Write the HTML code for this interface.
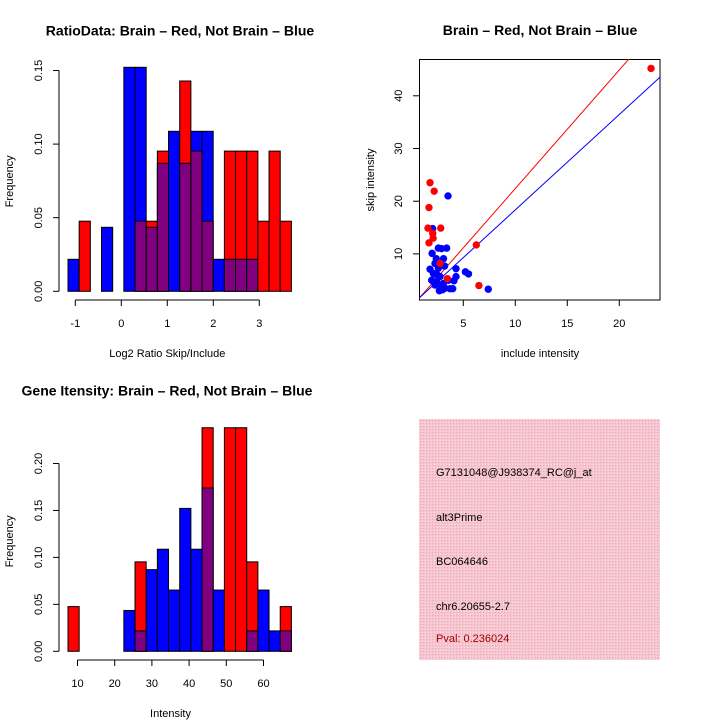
<!DOCTYPE html>
<html><head><meta charset="utf-8"><style>
body{margin:0;background:#fff}
svg{display:block;font-family:"Liberation Sans",Arial,sans-serif}
</style></head><body>
<svg width="720" height="720" viewBox="0 0 720 720">
<defs>
<pattern id="hatch" width="3" height="3" patternUnits="userSpaceOnUse">
<rect width="3" height="3" fill="#f6c6d0"/><rect width="1" height="1" fill="#f0a8b8"/><rect x="2" y="2" width="1" height="1" fill="#fbdce3"/>
</pattern>
</defs>
<g id="p1"></g>
<g id="p2"></g>
<g id="p3"></g>
<g>
<rect x="419" y="419" width="241" height="241" fill="url(#hatch)"/>
<text x="436" y="476" font-size="11">G7131048@J938374_RC@j_at</text>
<text x="436" y="521" font-size="11">alt3Prime</text>
<text x="436" y="565" font-size="11">BC064646</text>
<text x="436" y="610" font-size="11">chr6.20655-2.7</text>
<text x="436" y="642" font-size="11" fill="#a00000">Pval: 0.236024</text>
</g>
</svg>
<script>
const NS="http://www.w3.org/2000/svg";
// ---- data ----
const ratioBlue=[1,0,0,2,0,7,7,2,4,5,4,5,5,1,1,1,1,0,0,0];
const ratioRed=[0,1,0,0,0,0,1,1,2,0,3,2,1,0,2,2,2,1,2,1];
const ratioTicksX=[-1,0,1,2,3];
const ratioTicksY=[0,0.05,0.10,0.15];
const geneBlue=[0,0,0,0,0,2,1,4,5,3,7,5,8,3,0,0,1,3,1,1];
const geneRed=[1,0,0,0,0,0,2,0,0,0,0,0,5,0,5,5,2,0,0,1];
const geneTicksX=[10,20,30,40,50,60];
const geneTicksY=[0,0.05,0.10,0.15,0.20];
const nBlue=46, nRed=21;
const redX=[23.05,1.8,2.2,1.7,1.6,2.83,2.06,2.1,1.7,6.25,6.5,3.46,2.76];
const redY=[45.2,23.5,21.9,18.8,14.9,14.9,13.9,13.0,12.1,11.7,4.0,5.3,8.2];
const blueX=[3.53,2.05,2.6,3.4,2.9,2.0,2.4,3.1,3.2,1.8,4.3,5.2,5.5,4.3,4.1,7.4,2.28,2.6,2.12,2.76,2.44,2.28,2.92,2.7,3.24,3.72,3.98,1.96,3.08,3.56,2.5,3.0];
const blueY=[21.0,14.8,11.1,11.1,11.0,10.1,9.1,9.1,7.7,7.1,7.2,6.6,6.2,5.7,4.9,3.3,8.2,7.27,6.3,5.7,4.7,4.1,3.7,3.0,3.5,3.4,3.4,5.0,4.4,5.0,6.0,3.2];
const scTicksX=[5,10,15,20];
const scTicksY=[10,20,30,40];
const redLine=[-0.1,2.25];
const blueLine=[0.25,1.81];

function el(tag,attrs,parent,txt){const e=document.createElementNS(NS,tag);for(const k in attrs)e.setAttribute(k,attrs[k]);if(txt!==undefined)e.textContent=txt;parent.appendChild(e);return e;}

function hist(gid,blue,red,x0,binW,yBase,yScale,xTicks,xs,yTicks,xAxisY,title,titleX,xlab){
  const g=document.getElementById(gid);
  const ys=v=>yBase-v*yScale;
  for(let i=0;i<blue.length;i++){
    const b=blue[i]/nBlue,r=red[i]/nRed,x=x0+i*binW;
    const hi=Math.max(b,r),lo=Math.min(b,r);
    if(hi>0){const top=el('rect',{x:x,y:ys(hi),width:binW,height:yBase-ys(hi),fill:b>=r?'#0000ff':'#ff0000',stroke:'#000','stroke-width':1},g);
      
      }
    if(lo>0){const p=el('rect',{x:x,y:ys(lo),width:binW,height:yBase-ys(lo),fill:'#800080',stroke:'#000','stroke-width':1},g);
      
      }
  }
  const xa=el('g',{},g);
  
  
  el('line',{x1:xs(xTicks[0]),x2:xs(xTicks[xTicks.length-1]),y1:xAxisY,y2:xAxisY,stroke:'#000'},xa);
  xTicks.forEach(t=>{el('line',{x1:xs(t),x2:xs(t),y1:xAxisY,y2:xAxisY+6,stroke:'#000'},xa);
    const tl=el('text',{x:xs(t),y:xAxisY+27,'font-size':11,'text-anchor':'middle'},xa,String(t));
    
    });
  const ya=el('g',{},g);
  
  
  el('line',{x1:59,x2:59,y1:ys(yTicks[0]),y2:ys(yTicks[yTicks.length-1]),stroke:'#000'},ya);
  yTicks.forEach(t=>{el('line',{x1:53,x2:59,y1:ys(t),y2:ys(t),stroke:'#000'},ya);
    const tl=el('text',{x:0,y:0,'font-size':11,'text-anchor':'middle',transform:`translate(42,${ys(t)}) rotate(-90)`},ya,t.toFixed(2));
    
    });
  const yl=el('text',{x:0,y:0,'font-size':11,'text-anchor':'middle',transform:`translate(13,${yBase-110}) rotate(-90)`},g,'Frequency');
  
  
  const xl=el('text',{x:xs((xTicks[0]+xTicks[xTicks.length-1])/2),y:xAxisY+57,'font-size':11,'text-anchor':'middle'},g,xlab);
  
  
  const tt=el('text',{x:titleX,y:yBase-256,'font-size':14,'font-weight':'bold','text-anchor':'middle'},g,title);
  
  
}
hist('p1',ratioBlue,ratioRed,68,11.17,291.3,1472,ratioTicksX,v=>121.3+v*46,ratioTicksY,300,'RatioData: Brain \u2013 Red, Not Brain \u2013 Blue',180,'Log2 Ratio Skip/Include');
hist('p3',geneBlue,geneRed,68,11.17,651.3,939,geneTicksX,v=>40.3+v*3.72,geneTicksY,660,'Gene Itensity: Brain \u2013 Red, Not Brain \u2013 Blue',167,'Intensity');

// scatter
(function(){
  const g=document.getElementById('p2');
  const xs=v=>411.3+v*10.4, ys=v=>306.6-v*5.27;
  const cp=el('clipPath',{id:'scclip'},g);el('rect',{x:419,y:59,width:241,height:241},cp);
  const fr=el('rect',{x:419.5,y:59.5,width:240.5,height:240.5,fill:'none',stroke:'#000'},g);
  
  
  const lg=el('g',{'clip-path':'url(#scclip)'},g);
  [[redLine,'#ff0000','red-fit-line'],[blueLine,'#0000ff','blue-fit-line']].forEach(([l,c,n])=>{
    const ln=el('line',{x1:xs(0),y1:ys(l[0]),x2:xs(30),y2:ys(l[0]+l[1]*30),stroke:c,'stroke-width':1},lg);
    
    });
  blueX.forEach((x,i)=>{const c=el('circle',{cx:xs(x),cy:ys(blueY[i]),r:3.7,fill:'#0000ff'},lg);
    
    });
  redX.forEach((x,i)=>{const c=el('circle',{cx:xs(x),cy:ys(redY[i]),r:3.7,fill:'#ff0000'},lg);
    
    });
  scTicksX.forEach(t=>{el('line',{x1:xs(t),x2:xs(t),y1:300,y2:306,stroke:'#000'},g);
    const tl=el('text',{x:xs(t),y:327,'font-size':11,'text-anchor':'middle'},g,String(t));
    
    });
  scTicksY.forEach(t=>{el('line',{x1:413,x2:419,y1:ys(t),y2:ys(t),stroke:'#000'},g);
    const tl=el('text',{x:0,y:0,'font-size':11,'text-anchor':'middle',transform:`translate(402,${ys(t)}) rotate(-90)`},g,String(t));
    
    });
  const xl=el('text',{x:540,y:357,'font-size':11,'text-anchor':'middle'},g,'include intensity');
  
  
  const yl=el('text',{x:0,y:0,'font-size':11,'text-anchor':'middle',transform:'translate(374,180) rotate(-90)'},g,'skip intensity');
  
  
  const tt=el('text',{x:540,y:35,'font-size':14,'font-weight':'bold','text-anchor':'middle'},g,'Brain \u2013 Red, Not Brain \u2013 Blue');
  
  
})();
</script>
</body></html>
